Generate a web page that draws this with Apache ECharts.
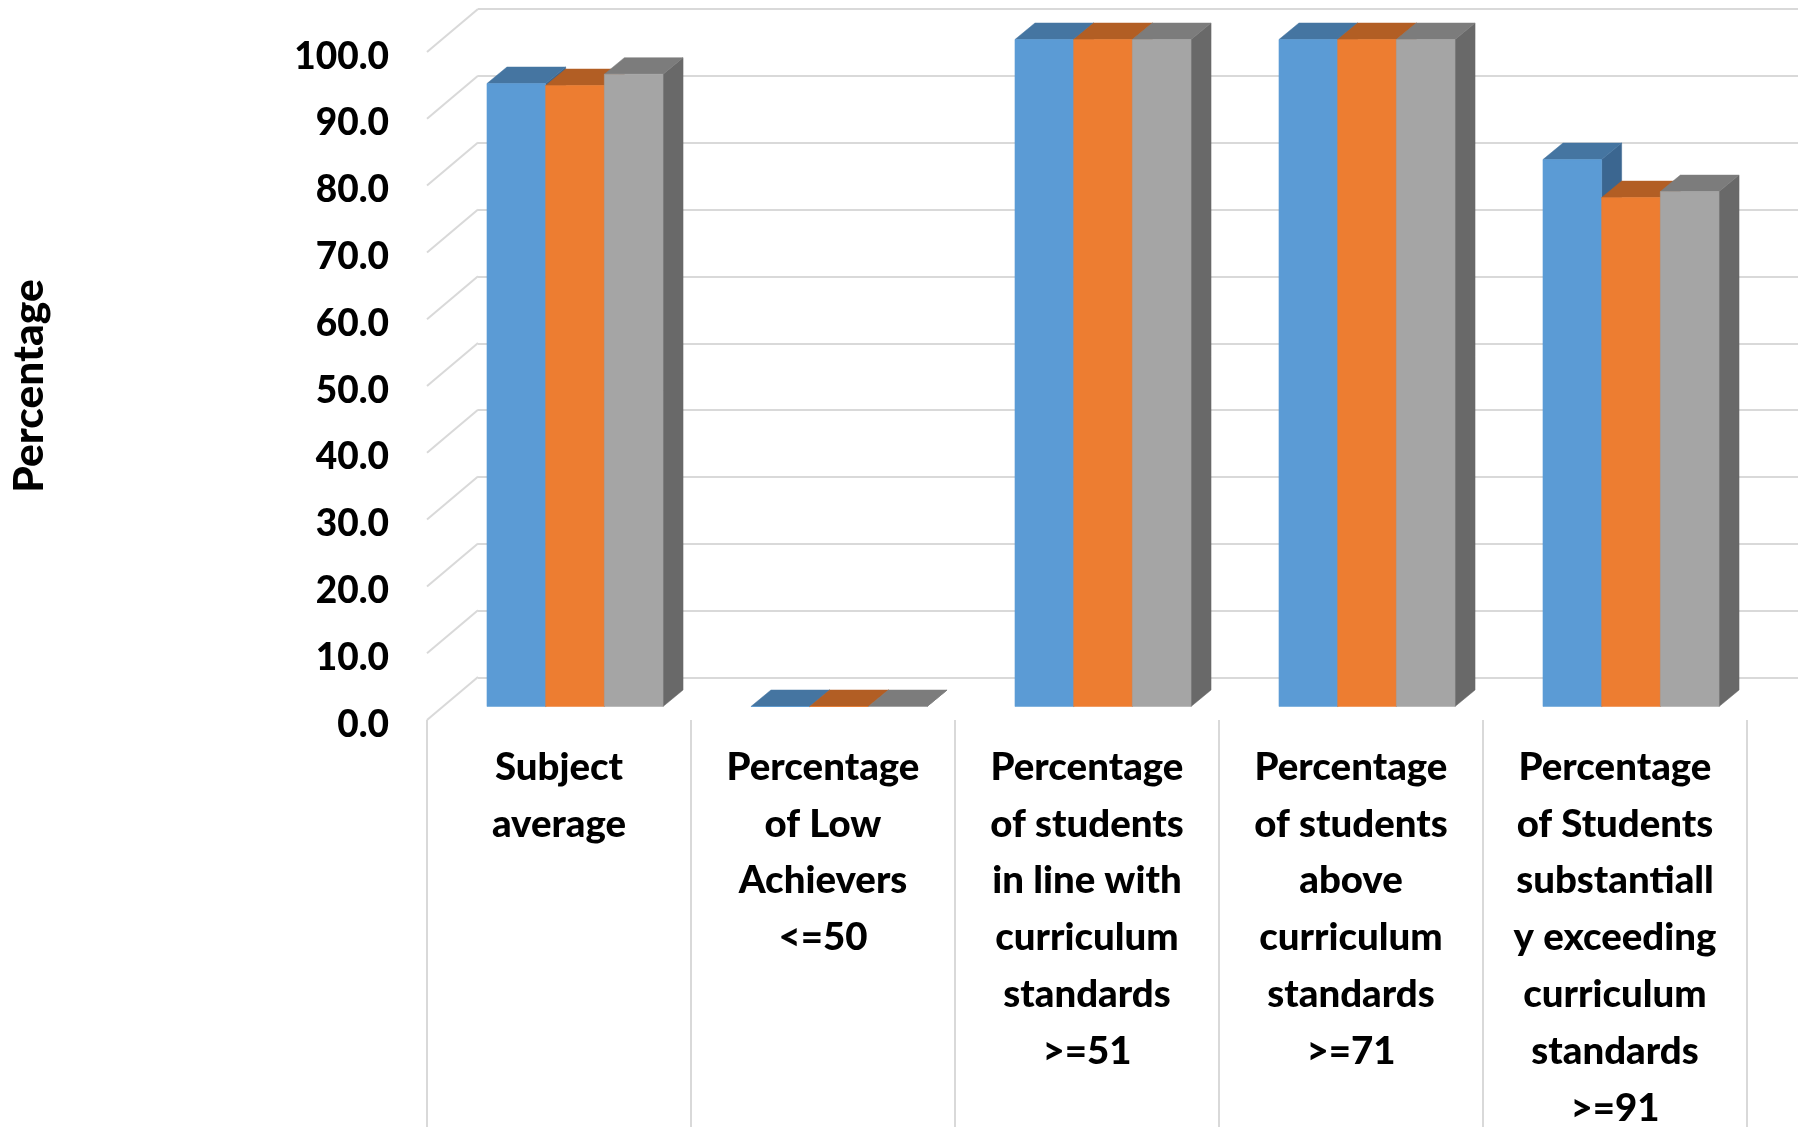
<!DOCTYPE html>
<html>
<head>
<meta charset="utf-8">
<style>html,body{margin:0;padding:0;background:#fff}#chart{width:1806px;height:1127px}</style>
<script src="https://cdn.jsdelivr.net/npm/echarts@6/dist/echarts.min.js"></script>
</head>
<body>
<div id="chart"></div>
<script>
const categories = [
  'Subject\naverage',
  'Percentage\nof Low\nAchievers\n<=50',
  'Percentage\nof students\nin line with\ncurriculum\nstandards\n>=51',
  'Percentage\nof students\nabove\ncurriculum\nstandards\n>=71',
  'Percentage\nof Students\nsubstantiall\ny exceeding\ncurriculum\nstandards\n>=91'
];
const blueValues = [93.4, 0, 100, 100, 82.0];
const orangeValues = [93.1, 0, 100, 100, 76.3];
const grayValues = [94.8, 0, 100, 100, 77.2];
const yTicks = [0, 10, 20, 30, 40, 50, 60, 70, 80, 90, 100];
const yAxisName = 'Percentage';

const FONT = 'Lato, "Open Sans", sans-serif';
const GRID_COLOR = '#d9d9d9';
const WALL_DX = 51, WALL_DY = 43;
const BAR_DX = 20, BAR_DY = 16.5;
const GROUP_RATIO = 0.667;

function barSeries(name, values, idx, front, top, side) {
  return {
    type: 'custom', name, xAxisIndex: 2, yAxisIndex: 2, z: 5 + idx, clip: false,
    data: values.map((v, i) => [i, v]),
    encode: { x: 0, y: 1 },
    renderItem(params, api) {
      const p = api.coord([api.value(0), api.value(1)]);
      const b = api.coord([api.value(0), 0]);
      const groupW = api.size([1, 0])[0] * GROUP_RATIO;
      const w = groupW / 3;
      const x0 = p[0] - groupW / 2 + idx * w, x1 = x0 + w;
      const yT = p[1], yB = b[1];
      const poly = (points, fill) => ({ type: 'polygon', shape: { points }, style: { fill, stroke: fill, lineWidth: 0.5 } });
      return {
        type: 'group',
        children: [
          poly([[x1, yT], [x1 + BAR_DX, yT - BAR_DY], [x1 + BAR_DX, yB - BAR_DY], [x1, yB]], side),
          poly([[x0, yT], [x0 + BAR_DX, yT - BAR_DY], [x1 + BAR_DX, yT - BAR_DY], [x1, yT]], top),
          poly([[x0, yT], [x1, yT], [x1, yB], [x0, yB]], front)
        ]
      };
    }
  };
}

const chart = echarts.init(document.getElementById('chart'), null, { renderer: 'canvas' });
chart.setOption({
  animation: false,
  backgroundColor: '#ffffff',
  grid: [
    { left: 427, top: 52, width: 1320, height: 668, outerBoundsMode: 'none' },
    { left: 478, top: 9, width: 1320, height: 668.5, outerBoundsMode: 'none' },
    { left: 443, top: 39.5, width: 1320, height: 667, outerBoundsMode: 'none' },
    { left: 427, top: 56.6, width: 1320, height: 668, outerBoundsMode: 'none' }
  ],
  xAxis: [
    {
      type: 'category', gridIndex: 0, data: categories,
      axisLine: { show: false },
      axisTick: { show: true, length: 410, alignWithLabel: false, lineStyle: { color: GRID_COLOR, width: 2 } },
      axisLabel: { interval: 0, margin: 19, color: '#000', fontFamily: FONT, fontWeight: 900, fontSize: 38.4, lineHeight: 56.8, hideOverlap: false }
    },
    { type: 'category', gridIndex: 1, data: categories, show: false },
    { type: 'category', gridIndex: 2, data: categories, show: false },
    { type: 'category', gridIndex: 3, data: categories, show: false }
  ],
  yAxis: [
    {
      type: 'value', gridIndex: 0, min: 0, max: 100, interval: 10,
      name: yAxisName, nameLocation: 'middle', nameRotate: 90, nameGap: 376,
      nameTextStyle: { color: '#000', fontFamily: FONT, fontWeight: 900, fontSize: 42.5 },
      axisLine: { show: false }, axisTick: { show: false }, splitLine: { show: false },
      axisLabel: { show: false }
    },
    {
      type: 'value', gridIndex: 1, min: 0, max: 100, interval: 10,
      axisLine: { show: false }, axisTick: { show: false }, axisLabel: { show: false },
      splitLine: { show: true, lineStyle: { color: GRID_COLOR, width: 2 } }
    },
    { type: 'value', gridIndex: 2, min: 0, max: 100, interval: 10, show: false, splitLine: { show: false } },
    {
      type: 'value', gridIndex: 3, min: 0, max: 100, interval: 10,
      axisLine: { show: false }, axisTick: { show: false }, splitLine: { show: false },
      axisLabel: { margin: 38, color: '#000', fontFamily: FONT, fontWeight: 900, fontSize: 37, formatter: v => v.toFixed(1) }
    }
  ],
  series: [
    {
      type: 'custom', name: 'wall', xAxisIndex: 0, yAxisIndex: 0, z: 1, clip: false, silent: true,
      data: yTicks.map(v => [0, v]),
      encode: { x: 0, y: 1 },
      renderItem(params, api) {
        const p = api.coord([api.value(0), api.value(1)]);
        const x = p[0] - api.size([1, 0])[0] / 2;
        return {
          type: 'line',
          shape: { x1: x, y1: p[1], x2: x + WALL_DX, y2: p[1] - WALL_DY },
          style: { stroke: GRID_COLOR, lineWidth: 2 }
        };
      }
    },
    barSeries('Blue', blueValues, 0, '#5B9BD5', '#4575A1', '#3B6690'),
    barSeries('Orange', orangeValues, 1, '#ED7D31', '#B25E24', '#9E521F'),
    barSeries('Gray', grayValues, 2, '#A5A5A5', '#7C7C7C', '#696969')
  ]
});
</script>
</body>
</html>
